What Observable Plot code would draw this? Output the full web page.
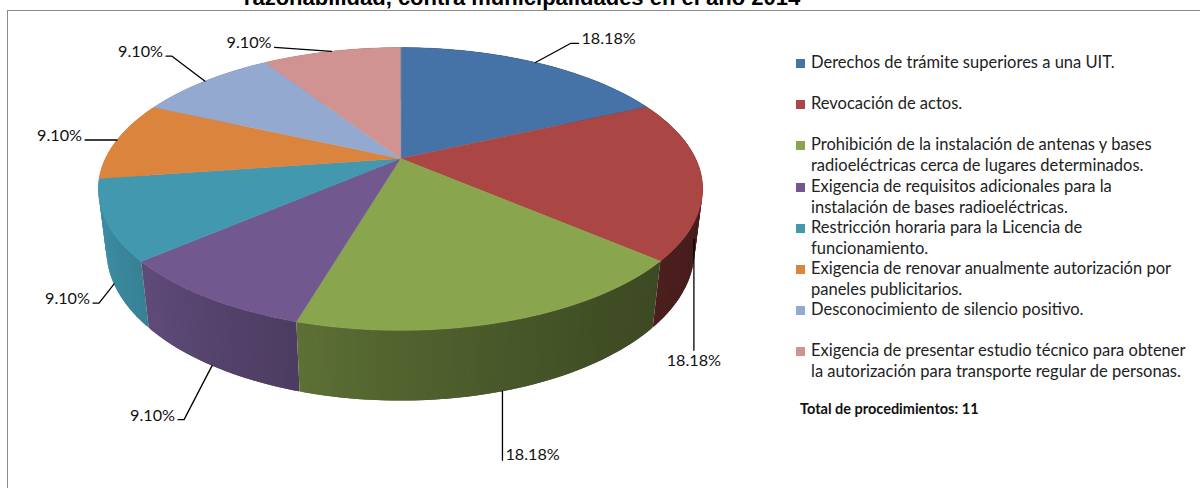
<!DOCTYPE html>
<html><head><meta charset="utf-8">
<script src="https://cdn.jsdelivr.net/npm/d3@7"></script>
<script src="https://cdn.jsdelivr.net/npm/@observablehq/plot@0.6"></script>
<style>
body{margin:0;background:#fff}
#wrap{position:relative;width:1200px;height:488px;overflow:hidden;background:#fff}
#frame{position:absolute;left:7px;top:10px;width:1300px;height:600px;border-left:1.5px solid #8a8a8a;border-top:1.5px solid #8a8a8a}
#title{position:absolute;left:0;top:-13px;width:1044px;text-align:center;font:bold 22px "Liberation Sans",Arial,sans-serif;line-height:22px;color:#000;white-space:nowrap}
#chart{position:absolute;left:0;top:0}
#legend{position:absolute;left:796px;top:52px;font-family:Lato,sans-serif;font-size:16.5px;color:#222}
.item{display:flex;align-items:flex-start;height:41.2px}
.sw{width:9px;height:9px;margin-top:7px;margin-right:6px;flex:none}
.lab{line-height:21px;white-space:pre}
#total{position:absolute;left:800px;top:400px;font:bold 14.5px Lato,sans-serif;color:#111;white-space:nowrap}
</style>
</head><body>
<div id="wrap"><div id="frame"></div><div id="title"></div><div id="chart"></div><div id="legend"></div><div id="total"></div></div>
<script>
// ---------- data ----------
const categories = [
  "Derechos de trámite superiores a una UIT.",
  "Revocación de actos.",
  "Prohibición de la instalación de antenas y bases\nradioeléctricas cerca de lugares determinados.",
  "Exigencia de requisitos adicionales para la\ninstalación de bases radioeléctricas.",
  "Restricción horaria para la Licencia de\nfuncionamiento.",
  "Exigencia de renovar anualmente autorización por\npaneles publicitarios.",
  "Desconocimiento de silencio positivo.",
  "Exigencia de presentar estudio técnico para obtener\nla autorización para transporte regular de personas."
];
const counts = [2, 2, 2, 1, 1, 1, 1, 1];
const shares = [18.18, 18.18, 18.18, 9.10, 9.10, 9.10, 9.10, 9.10];
const shareLabels = ["18.18%", "18.18%", "18.18%", "9.10%", "9.10%", "9.10%", "9.10%", "9.10%"];
const colors = ["#4572A7", "#AA4643", "#89A54E", "#71588F", "#4198AF", "#DB843D", "#93A9CF", "#D19392"];
const titleText = "razonabilidad, contra municipalidades en el año 2014";
const totalText = "Total de procedimientos: " + d3.sum(counts);

// ---------- 3D pie model (layout) ----------
const P = {cx: 400, cy: 158, f: 1217, D: 4.125, sa: 0.457, ca: 0.889, h: 0.234};
function proj(deg, r, hh) {
  const t = deg * Math.PI / 180;
  const X = r * Math.sin(t), Z = -r * Math.cos(t);
  const yc = Z * P.sa + hh * P.ca;
  const dep = P.D - Z * P.ca + hh * P.sa;
  return [P.cx + P.f * X / dep, P.cy + P.f * yc / dep];
}
function shade(c, k) {
  const q = d3.rgb(c);
  return d3.rgb(q.r * k, q.g * k, q.b * k).formatHex();
}
const sideFactor = X => 0.60 - 0.27 * X + 0.08 * X * X;

const total = d3.sum(shares);
const bounds = [];
let acc = 0;
shares.forEach(s => { bounds.push([acc / total * 360, (acc + s) / total * 360]); acc += s; });

const topPts = [], wallSegs = [];
bounds.forEach(([a0, a1], i) => {
  const n = Math.max(2, Math.ceil(a1 - a0));
  const id = "top" + i;
  const c = proj(0, 0, 0);
  topPts.push({id, x: c[0], y: c[1], fill: colors[i]});
  for (let k = 0; k <= n; k++) {
    const a = a0 + (a1 - a0) * k / n;
    const p = proj(a, 1, 0);
    topPts.push({id, x: p[0], y: p[1], fill: colors[i]});
  }
  for (let k = 0; k < n; k++) {
    const a = a0 + (a1 - a0) * k / n, b = a0 + (a1 - a0) * (k + 1) / n;
    const m = (a + b) / 2 * Math.PI / 180;
    const X = Math.sin(m), Z = -Math.cos(m);
    const fill = shade(colors[i], sideFactor(X));
    const a2 = k === 0 ? a : a - 0.5, b2 = k === n - 1 ? b : b + 0.5;
    wallSegs.push({Z, fill, pts: [proj(a2, 1, 0), proj(b2, 1, 0), proj(b2, 1, P.h), proj(a2, 1, P.h)]});
  }
});
wallSegs.sort((u, v) => u.Z - v.Z);
const wallPts = [];
wallSegs.forEach((s, j) => s.pts.forEach(p => wallPts.push({id: "w" + j, x: p[0], y: p[1], fill: s.fill})));

// leader lines: offsets from the rim anchor (layout)
const leaderOffsets = [
  [[35, -19], [43, -19]],
  [[0, 111]],
  [[0, 69]],
  [[-28, 54], [-34, 54]],
  [[-15, 19], [-21, 19]],
  [[-32, 0]],
  [[-33, -25], [-39, -25]],
  [[-57, -4]]
];
const leaderPts = [], labels = [];
bounds.forEach(([a0, a1], i) => {
  const mid = (a0 + a1) / 2;
  const front = -Math.cos(mid * Math.PI / 180) > 0;
  const an = proj(mid, 1, front ? P.h : 0);
  leaderPts.push({id: i, x: an[0], y: an[1]});
  leaderOffsets[i].forEach(o => leaderPts.push({id: i, x: an[0] + o[0], y: an[1] + o[1]}));
  const last = leaderOffsets[i][leaderOffsets[i].length - 1];
  const ex = an[0] + last[0], ey = an[1] + last[1];
  let anchor, tx, ty;
  if (last[0] === 0 && last[1] > 90) { anchor = "middle"; tx = ex; ty = ey + 10; }
  else if (last[0] >= 0) { anchor = "start"; tx = ex + 3; ty = ey - 5; }
  else { anchor = "end"; tx = ex - 3; ty = ey - 4; }
  labels.push({x: tx, y: ty, text: shareLabels[i], anchor});
});

const txt = (anchor) => Plot.text(labels.filter(d => d.anchor === anchor), {
  x: "x", y: "y", text: "text", textAnchor: anchor, lineAnchor: "middle", fill: "#111", fontSize: 16.2
});

const chart = Plot.plot({
  width: 1200, height: 488, margin: 0,
  x: {domain: [0, 1200], range: [0, 1200], axis: null},
  y: {domain: [0, 488], range: [0, 488], axis: null},
  color: {type: "identity"},
  style: {background: "transparent", fontFamily: "Lato, sans-serif"},
  marks: [
    Plot.line(wallPts, {x: "x", y: "y", z: "id", fill: "fill", stroke: "none", curve: "linear-closed"}),
    Plot.line(topPts, {x: "x", y: "y", z: "id", fill: "fill", stroke: "fill", strokeWidth: 0.5, curve: "linear-closed"}),
    Plot.line(leaderPts, {x: "x", y: "y", z: "id", stroke: "#000", strokeWidth: 1.3}),
    txt("start"), txt("end"), txt("middle")
  ]
});
document.getElementById("chart").appendChild(chart);

document.getElementById("title").textContent = titleText;
document.getElementById("total").textContent = totalText;
const leg = d3.select("#legend");
categories.forEach((c, i) => {
  const it = leg.append("div").attr("class", "item");
  it.append("div").attr("class", "sw").style("background", colors[i]);
  it.append("div").attr("class", "lab").text(c);
});
</script>
</body></html>
